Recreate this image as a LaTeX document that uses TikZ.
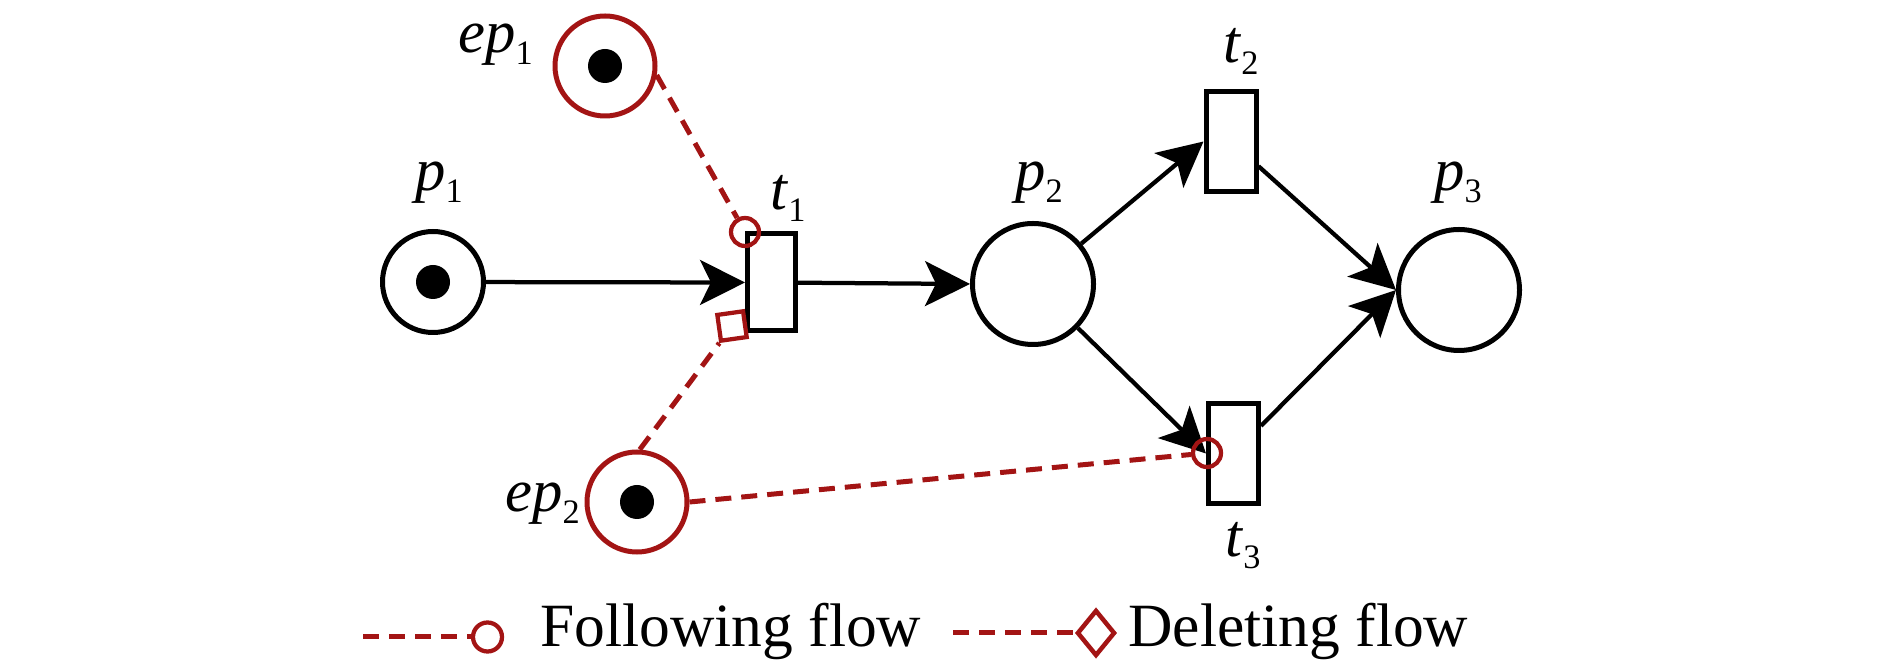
\documentclass[tikz,border=0pt]{standalone}
\usepackage{fontspec}
\setmainfont{Liberation Serif}
\usetikzlibrary{arrows.meta,shapes.geometric}
\definecolor{rd}{RGB}{163,20,20}
\newcommand{\plab}[2]{\fontsize{34.5}{40}\selectfont\textit{#1}\raisebox{-2.4mm}{\fontsize{19.5}{22}\selectfont #2}}
\begin{document}
\begin{tikzpicture}[x=0.2mm,y=-0.2mm,
  place/.style={circle,draw=black,line width=1mm,minimum size=24.2mm,inner sep=0pt},
  tok/.style={circle,fill=black,minimum size=6.8mm,inner sep=0pt},
  eplace/.style={circle,draw=rd,line width=1mm,minimum size=20mm,inner sep=0pt},
  trans/.style={rectangle,draw=black,line width=1mm,minimum width=10mm,minimum height=20mm,inner sep=0pt},
  fmk/.style={circle,draw=rd,line width=0.85mm,minimum size=5.6mm,inner sep=0pt},
  sqmk/.style={rectangle,draw=rd,line width=0.85mm,minimum size=5.2mm,inner sep=0pt,rotate=8},
  dmk/.style={diamond,draw=rd,line width=0.9mm,minimum width=7.6mm,minimum height=9.2mm,inner sep=0pt},
  arc/.style={draw=black,line width=0.85mm,-{Stealth[length=9mm,width=9mm,inset=2.2mm]}},
  rdash/.style={draw=rd,line width=1mm,dash pattern=on 3.2mm off 2mm},
  lbl/.style={anchor=base west,inner sep=0pt},
  legtext/.style={anchor=base west,inner sep=0pt,font=\fontsize{35}{40}\selectfont}]
\useasboundingbox (0,0) rectangle (1890,664);

% places
\node[place,minimum size=20.2mm] (p1) at (433,282) {};
\node[tok] (p1tok) at (p1) {};
\node[place] (p2) at (1033,284) {};
\node[place] (p3) at (1459,290) {};
\node[eplace] (ep1) at (605,66) {};
\node[tok] (ep1tok) at (ep1) {};
\node[eplace] (ep2) at (637,502) {};
\node[tok] (ep2tok) at (ep2) {};

% transitions
\node[trans,minimum width=9.6mm,minimum height=19.4mm] (t1) at (771.5,282.5) {};
\node[trans] (t2) at (1231,141.5) {};
\node[trans] (t3) at (1233.5,453.5) {};

% labels
\node[lbl] (lep1) at (458,53) {\plab{ep}{1}};
\node[lbl] (lp1) at (415,191) {\plab{p}{1}};
\node[lbl] (lt1) at (770,210) {\plab{t}{1}};
\node[lbl] (lp2) at (1015,191) {\plab{p}{2}};
\node[lbl] (lt2) at (1223,63) {\plab{t}{2}};
\node[lbl] (lp3) at (1434,191) {\plab{p}{3}};
\node[lbl] (lep2) at (505,512) {\plab{ep}{2}};
\node[lbl] (lt3) at (1225,557) {\plab{t}{3}};

% arcs
\draw[arc] (p1) -- (t1.west);
\draw[arc] (t1) -- (p2.west);
\draw[arc] (p2) -- (t2.west);
\draw[arc] (t2) -- (p3.west);
\draw[arc] (p2) -- (t3.west);
\draw[arc] (t3) -- (p3.west);

% extended flows
\node[fmk] (fc1) at (745,232) {};
\node[sqmk] (sq) at (732,326) {};
\node[fmk] (fc3) at (1207,453) {};
\draw[rdash] (ep1.-10) -- (fc1);
\draw[rdash] (ep2.87) -- (sq);
\draw[rdash] (ep2.east) -- (fc3);

% legend
\coordinate (lf0) at (363,637);
\node[fmk,minimum size=5.8mm] (lf) at (487.5,637) {};
\draw[rdash] (lf0) -- (lf);
\node[legtext] (lft) at (540,647) {Following flow};
\coordinate (ld0) at (953,633);
\node[dmk] (ld) at (1096,633) {};
\draw[rdash] (ld0) -- (ld);
\node[legtext] (ldt) at (1128,647) {Deleting flow};
\end{tikzpicture}
\end{document}
